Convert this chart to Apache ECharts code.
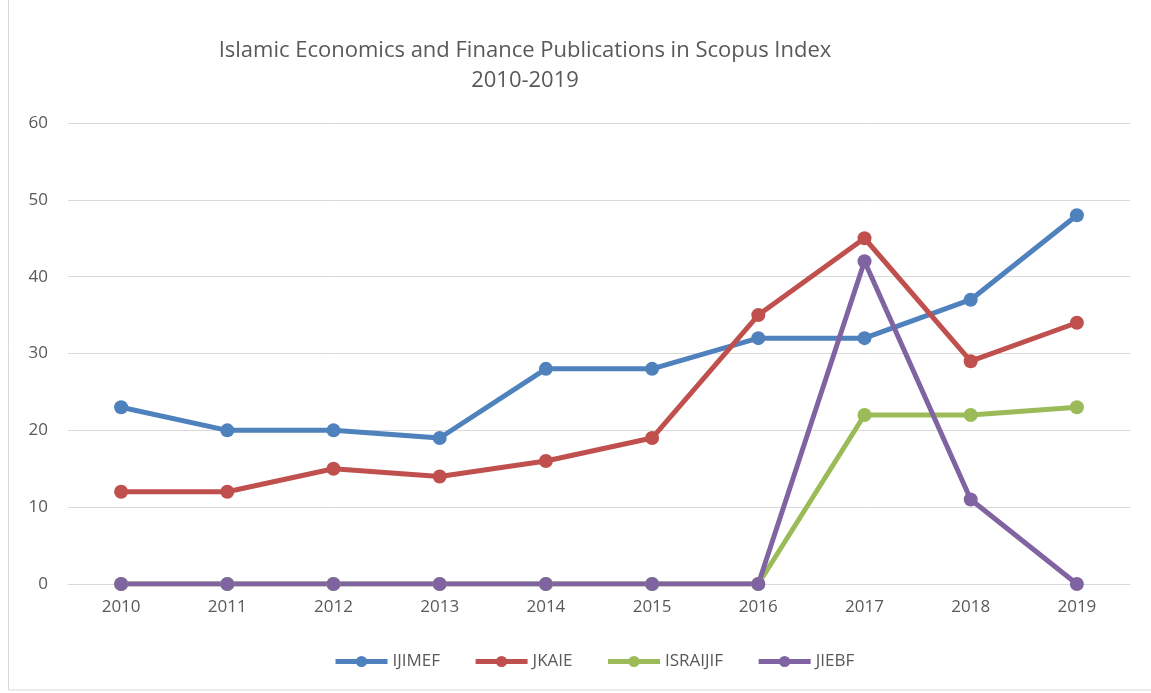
<!DOCTYPE html>
<html>
<head>
<meta charset="utf-8">
<script src="https://cdn.jsdelivr.net/npm/echarts@6/dist/echarts.min.js"></script>
<style>
  html, body { margin: 0; padding: 0; background: #fff; }
  #chart { width: 1151px; height: 693px; }
</style>
</head>
<body>
<div id="chart"></div>
<script>
  // 数据
  var years = ['2010', '2011', '2012', '2013', '2014', '2015', '2016', '2017', '2018', '2019'];
  var ijimef = [23, 20, 20, 19, 28, 28, 32, 32, 37, 48];
  var jkaie = [12, 12, 15, 14, 16, 19, 35, 45, 29, 34];
  var israijif = [0, 0, 0, 0, 0, 0, 0, 22, 22, 23];
  var jiebf = [0, 0, 0, 0, 0, 0, 0, 42, 11, 0];
  var yTicks = [0, 10, 20, 30, 40, 50, 60];

  var font = '"Open Sans", "Noto Sans", sans-serif';

  function makeSeries(name, data, color) {
    return {
      name: name,
      type: 'line',
      data: data,
      symbol: 'circle',
      symbolSize: 14,
      lineStyle: { width: 5, color: color },
      itemStyle: { color: color },
      emphasis: { disabled: true },
      animation: false
    };
  }

  var chart = echarts.init(document.getElementById('chart'));
  chart.setOption({
    animation: false,
    title: {
      text: 'Islamic Economics and Finance Publications in Scopus Index\n2010-2019',
      left: 520,
      textAlign: 'center',
      top: 31,
      textStyle: {
        color: '#595959',
        fontSize: 22,
        fontWeight: 'normal',
        fontFamily: font,
        lineHeight: 30
      }
    },
    legend: {
      bottom: 18,
      left: 328,
      itemWidth: 52,
      itemHeight: 14,
      itemGap: 33,
      lineStyle: { width: 5 },
      textStyle: { color: '#595959', fontSize: 17, fontFamily: font },
      data: ['IJIMEF', 'JKAIE', 'ISRAIJIF', 'JIEBF']
    },
    grid: { left: 68, right: 21, top: 123, bottom: 109 },
    xAxis: {
      type: 'category',
      data: years,
      boundaryGap: true,
      axisLine: { lineStyle: { color: '#d9d9d9', width: 1 } },
      axisTick: { show: false },
      axisLabel: { color: '#595959', fontSize: 17, fontFamily: font, margin: 15 }
    },
    yAxis: {
      type: 'value',
      min: yTicks[0],
      max: yTicks[yTicks.length - 1],
      interval: 10,
      axisLine: { show: false },
      axisTick: { show: false },
      axisLabel: { color: '#595959', fontSize: 17, fontFamily: font, margin: 20 },
      splitLine: { lineStyle: { color: '#d9d9d9', width: 1 } }
    },
    graphic: [{
      type: 'rect',
      shape: { x: 8.5, y: -5, width: 1200, height: 695 },
      style: { fill: 'none', stroke: '#d9d9d9', lineWidth: 1 },
      silent: true
    }],
    series: [
      makeSeries('IJIMEF', ijimef, '#4f81bd'),
      makeSeries('JKAIE', jkaie, '#c0504d'),
      makeSeries('ISRAIJIF', israijif, '#9bbb59'),
      makeSeries('JIEBF', jiebf, '#8064a2')
    ]
  });
</script>
</body>
</html>
